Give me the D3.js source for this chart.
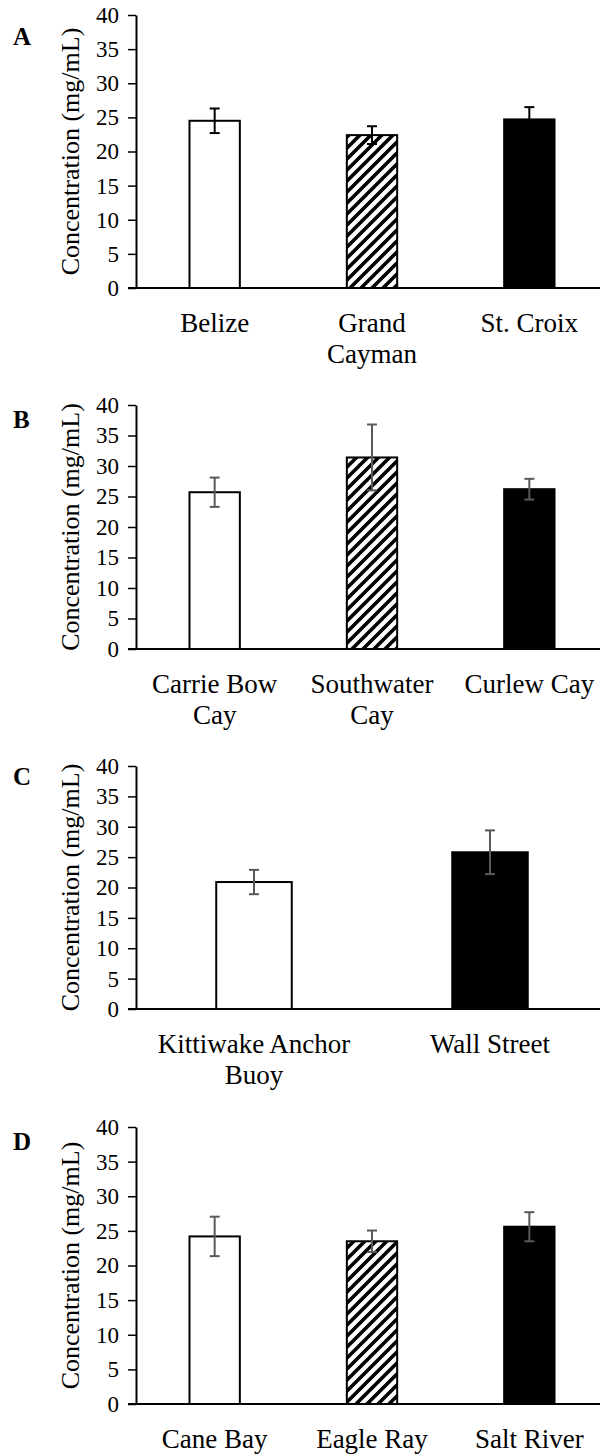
<!DOCTYPE html>
<html>
<head>
<meta charset="utf-8">
<script src="https://cdn.jsdelivr.net/npm/d3@7"></script>
<style>
  body { margin: 0; background: #fff; }
  svg { display: block; }
</style>
</head>
<body>
<div id="chart"></div>
<script>
// panel A: islands
const sitesA = ["Belize", "Grand\nCayman", "St. Croix"]
const meanA = [24.5, 22.4, 24.7]
const errA = [1.8, 1.3, 1.8]

// panel B: Belize sites
const sitesB = ["Carrie Bow\nCay", "Southwater\nCay", "Curlew Cay"]
const meanB = [25.7, 31.4, 26.2]
const errB = [2.4, 5.4, 1.7]

// panel C: Grand Cayman sites
const sitesC = ["Kittiwake Anchor\nBuoy", "Wall Street"]
const meanC = [20.9, 25.8]
const errC = [2.0, 3.6]

// panel D: St. Croix sites
const sitesD = ["Cane Bay", "Eagle Ray", "Salt River"]
const meanD = [24.2, 23.5, 25.6]
const errD = [2.85, 1.55, 2.1]

const yTicks = [0, 5, 10, 15, 20, 25, 30, 35, 40]

const w = 600
const h = 1454
const axisX = 136
const rightX = 608
const serif = "'Liberation Serif', 'Times New Roman', Tinos, serif"

const svg = d3.select("#chart").append("svg")
    .attr("width", w)
    .attr("height", h)

// wide upward diagonal hatch
const pat = svg.append("defs").append("pattern")
    .attr("id", "hatch")
    .attr("patternUnits", "userSpaceOnUse")
    .attr("width", 11)
    .attr("height", 11)
pat.append("rect").attr("width", 11).attr("height", 11).attr("fill", "#fff")
pat.append("path")
    .attr("d", "M-3,3 L3,-3 M0,11 L11,0 M8,14 L14,8")
    .attr("stroke", "#000")
    .attr("stroke-width", 3.6)

const panels = [
    { letter: "A", sites: sitesA, mean: meanA, err: errA, top: 15, zero: 288, letterY: 45,
      fills: ["#fff", "url(#hatch)", "#000"], errColor: "#000" },
    { letter: "B", sites: sitesB, mean: meanB, err: errB, top: 405, zero: 649, letterY: 428,
      fills: ["#fff", "url(#hatch)", "#000"], errColor: "#595959" },
    { letter: "C", sites: sitesC, mean: meanC, err: errC, top: 766, zero: 1009, letterY: 785,
      fills: ["#fff", "#000"], errColor: "#595959" },
    { letter: "D", sites: sitesD, mean: meanD, err: errD, top: 1127, zero: 1404, letterY: 1150,
      fills: ["#fff", "url(#hatch)", "#000"], errColor: "#595959" }
]

panels.forEach(p => {
    const g = svg.append("g")
    const data = p.sites.map((s, i) => ({ site: s, mean: p.mean[i], err: p.err[i], fill: p.fills[i] }))

    const x = d3.scaleBand()
        .domain(p.sites)
        .range([axisX, rightX])
        .paddingInner(0.68)
        .paddingOuter(0.34)

    const y = d3.scaleLinear()
        .domain([0, 40])
        .range([p.zero, p.top])

    // bars
    g.selectAll("rect.bar")
        .data(data)
        .enter()
        .append("rect")
        .attr("class", "bar")
        .attr("x", d => x(d.site))
        .attr("y", d => y(d.mean))
        .attr("width", x.bandwidth())
        .attr("height", d => y(0) - y(d.mean))
        .attr("fill", d => d.fill)
        .attr("stroke", "#000")
        .attr("stroke-width", 2)

    // error bars
    const eb = g.selectAll("g.err")
        .data(data)
        .enter()
        .append("g")
        .attr("class", "err")
        .attr("stroke", p.errColor)
        .attr("stroke-width", 2)
    eb.append("line")
        .attr("x1", d => x(d.site) + x.bandwidth() / 2)
        .attr("x2", d => x(d.site) + x.bandwidth() / 2)
        .attr("y1", d => y(d.mean + d.err))
        .attr("y2", d => y(d.mean - d.err))
    eb.append("line")
        .attr("x1", d => x(d.site) + x.bandwidth() / 2 - 5)
        .attr("x2", d => x(d.site) + x.bandwidth() / 2 + 5)
        .attr("y1", d => y(d.mean + d.err))
        .attr("y2", d => y(d.mean + d.err))
    eb.append("line")
        .attr("x1", d => x(d.site) + x.bandwidth() / 2 - 5)
        .attr("x2", d => x(d.site) + x.bandwidth() / 2 + 5)
        .attr("y1", d => y(d.mean - d.err))
        .attr("y2", d => y(d.mean - d.err))

    // y axis
    const yAxis = d3.axisLeft(y)
        .tickValues(yTicks)
        .tickSize(8)
        .tickPadding(9)
        .tickSizeOuter(0)
    const ya = g.append("g")
        .attr("transform", `translate(${axisX},0)`)
        .call(yAxis)
    ya.select(".domain").attr("stroke", "#000").attr("stroke-width", 2)
    ya.selectAll(".tick line").attr("stroke", "#000").attr("stroke-width", 1.5)
    ya.selectAll(".tick text")
        .style("font-family", serif)
        .style("font-size", "23px")
        .attr("fill", "#000")

    // x axis line
    g.append("line")
        .attr("x1", axisX - 8)
        .attr("x2", w)
        .attr("y1", y(0))
        .attr("y2", y(0))
        .attr("stroke", "#000")
        .attr("stroke-width", 2)

    // category labels
    g.selectAll("text.cat")
        .data(data)
        .enter()
        .append("text")
        .attr("class", "cat")
        .attr("text-anchor", "middle")
        .style("font-family", serif)
        .style("font-size", "27px")
        .attr("fill", "#000")
        .each(function(d) {
            const lines = d.site.split("\n")
            lines.forEach((ln, i) => {
                d3.select(this).append("tspan")
                    .attr("x", x(d.site) + x.bandwidth() / 2)
                    .attr("y", p.zero + 44 + i * 31)
                    .text(ln)
            })
        })

    // axis title
    g.append("text")
        .attr("transform", `translate(79,${(p.top + p.zero) / 2}) rotate(-90)`)
        .attr("text-anchor", "middle")
        .style("font-family", serif)
        .style("font-size", "26px")
        .attr("fill", "#000")
        .text("Concentration (mg/mL)")

    // panel letter
    g.append("text")
        .attr("x", 13)
        .attr("y", p.letterY)
        .style("font-family", serif)
        .style("font-size", "25px")
        .style("font-weight", "bold")
        .attr("fill", "#000")
        .text(p.letter)
})
</script>
</body>
</html>
